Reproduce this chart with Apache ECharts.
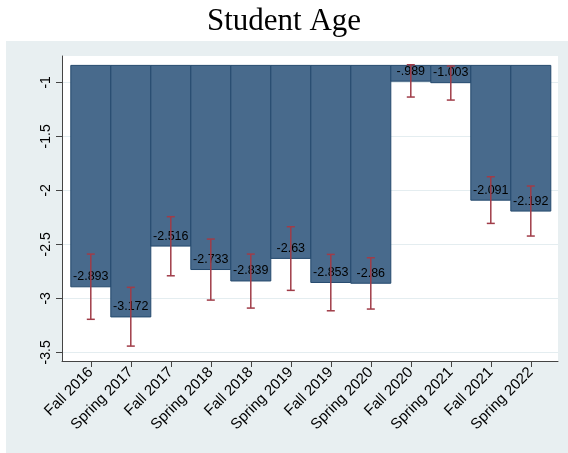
<!DOCTYPE html>
<html>
<head>
<meta charset="utf-8">
<script src="https://cdn.jsdelivr.net/npm/echarts@6/dist/echarts.min.js"></script>
<style>
  html, body { margin: 0; padding: 0; background: #ffffff; }
  #chart { width: 568px; height: 453px; }
</style>
</head>
<body>
<div id="chart"></div>
<script>
// Semester labels along the horizontal axis
const terms = ['Fall 2016', 'Spring 2017', 'Fall 2017', 'Spring 2018', 'Fall 2018', 'Spring 2019',
               'Fall 2019', 'Spring 2020', 'Fall 2020', 'Spring 2021', 'Fall 2021', 'Spring 2022'];
// Point estimates per term
const estimates = [-2.893, -3.172, -2.516, -2.733, -2.839, -2.63, -2.853, -2.86, -0.989, -1.003, -2.091, -2.192];
// Printed value labels
const valueLabels = ['-2.893', '-3.172', '-2.516', '-2.733', '-2.839', '-2.63', '-2.853', '-2.86', '-.989', '-1.003', '-2.091', '-2.192'];
// Confidence interval bounds
const ciUpper = [-2.590, -2.898, -2.244, -2.451, -2.590, -2.337, -2.593, -2.624, -0.837, -0.849, -1.874, -1.960];
const ciLower = [-3.194, -3.442, -2.791, -3.016, -3.090, -2.926, -3.115, -3.099, -1.136, -1.164, -2.306, -2.423];
// Y axis tick values
const yTicks = [-3.5, -3, -2.5, -2, -1.5, -1];
// Bars hang down from this base value
const barBase = -0.843;

const chart = echarts.init(document.getElementById('chart'), null, { renderer: 'canvas' });

const barFill = '#486a8c';
const barStroke = '#24496d';
const ciColor = '#a03c48';

chart.setOption({
  backgroundColor: '#ffffff',
  animation: false,
  title: {
    text: 'Student Age',
    left: 'center',
    top: 1,
    textStyle: { fontFamily: 'Liberation Serif', fontSize: 31, fontWeight: 'normal', color: '#000' }
  },
  graphic: [{
    type: 'rect',
    z: -10,
    silent: true,
    shape: { x: 6, y: 41, width: 562, height: 412 },
    style: { fill: '#e8eff1' }
  }],
  grid: {
    left: 62, top: 56, width: 496, height: 305,
    show: true, backgroundColor: '#ffffff', borderWidth: 0
  },
  xAxis: {
    type: 'value',
    min: -0.72, max: 11.68,
    axisLine: { show: true, onZero: false, lineStyle: { color: '#444', width: 1 } },
    axisTick: { show: true, length: 6, lineStyle: { color: '#444' }, customValues: terms.map((t, i) => i) },
    axisLabel: {
      show: true, rotate: 45, fontFamily: 'Liberation Sans', fontSize: 15, color: '#000', margin: 9,
      customValues: terms.map((t, i) => i),
      formatter: v => terms[Math.round(v)]
    },
    splitLine: { show: false }
  },
  yAxis: {
    type: 'value',
    min: -3.58, max: -0.756,
    axisLine: { show: true, onZero: false, lineStyle: { color: '#444', width: 1 } },
    axisTick: { show: true, length: 6, lineStyle: { color: '#444' }, customValues: yTicks },
    axisLabel: {
      show: true, rotate: 90, fontFamily: 'Liberation Sans', fontSize: 14, color: '#000', margin: 9,
      customValues: yTicks,
      formatter: v => String(v)
    },
    splitLine: { show: true, lineStyle: { color: '#e4edf0', width: 1 } }
  },
  series: [
    {
      type: 'custom',
      name: 'bars',
      z: 2,
      data: estimates.map((v, i) => [i, v]),
      renderItem: (params, api) => {
        const i = api.value(0), v = api.value(1);
        const a = api.coord([i - 0.5, barBase]);
        const b = api.coord([i + 0.5, v]);
        return {
          type: 'rect',
          shape: { x: a[0], y: a[1], width: b[0] - a[0], height: b[1] - a[1] },
          style: { fill: barFill, stroke: barStroke, lineWidth: 1 }
        };
      }
    },
    {
      type: 'custom',
      name: 'labels',
      z: 3,
      data: estimates.map((v, i) => [i, v]),
      renderItem: (params, api) => {
        const i = api.value(0), v = api.value(1);
        const p = api.coord([i, v]);
        return {
          type: 'text',
          x: p[0], y: p[1] - 10,
          style: {
            text: valueLabels[params.dataIndex],
            fontFamily: 'Liberation Sans', fontSize: 12.5, fill: '#000',
            align: 'center', verticalAlign: 'middle'
          }
        };
      }
    },
    {
      type: 'custom',
      name: 'ci',
      z: 4,
      data: ciUpper.map((u, i) => [i, u, ciLower[i]]),
      renderItem: (params, api) => {
        const i = api.value(0);
        const top = api.coord([i, api.value(1)]);
        const bot = api.coord([i, api.value(2)]);
        const cap = 4;
        const ls = { stroke: ciColor, lineWidth: 1.5 };
        return {
          type: 'group',
          children: [
            { type: 'line', shape: { x1: top[0], y1: top[1], x2: bot[0], y2: bot[1] }, style: ls },
            { type: 'line', shape: { x1: top[0] - cap, y1: top[1], x2: top[0] + cap, y2: top[1] }, style: ls },
            { type: 'line', shape: { x1: bot[0] - cap, y1: bot[1], x2: bot[0] + cap, y2: bot[1] }, style: ls }
          ]
        };
      }
    }
  ]
});
</script>
</body>
</html>
